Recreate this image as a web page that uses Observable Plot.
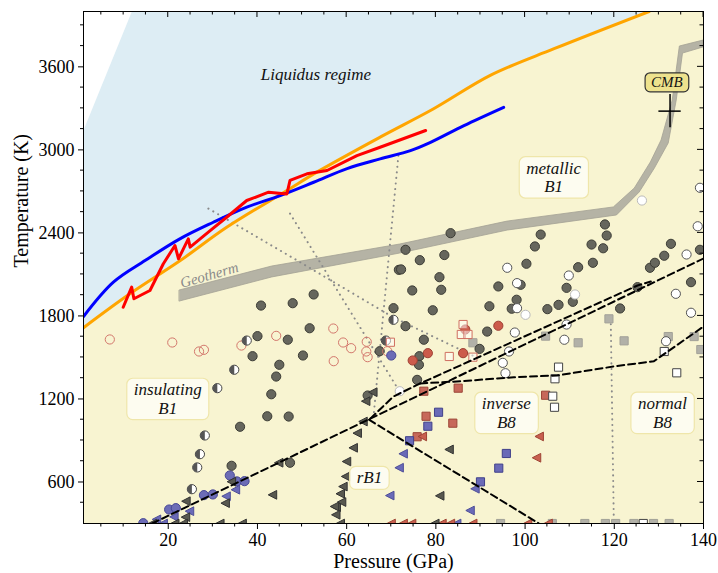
<!DOCTYPE html>
<html><head><meta charset="utf-8">
<script src="https://cdn.jsdelivr.net/npm/d3@7"></script>
<script src="https://cdn.jsdelivr.net/npm/@observablehq/plot@0.6"></script>
<style>body{margin:0;background:#fff;}</style>
</head><body><div id="chart"></div>
<script>
// ---------- axis ticks ----------
const xMajor = [20, 40, 60, 80, 100, 120, 140];
const xMinor = [5, 10, 15, 25, 30, 35, 45, 50, 55, 65, 70, 75, 85, 90, 95, 105, 110, 115, 125, 130, 135];
const yMajor = [600, 1200, 1800, 2400, 3000, 3600];
const yMinor = [450, 750, 900, 1050, 1350, 1500, 1650, 1950, 2100, 2250, 2550, 2700, 2850, 3150, 3300, 3450, 3750, 3900];

// ---------- curves ----------
const orangeP = [1, 11.4, 22.7, 33.1, 46.6, 53.3, 67.5, 79.5, 92.3, 106.5, 127.8];
const orangeT = [1715, 1960, 2200, 2440, 2706, 2839, 3092, 3297, 3540, 3731, 4000];
const blueP = [1, 7.7, 14.8, 22.6, 30.1, 37.6, 45.1, 52.6, 60.1, 67.5, 74.3, 78.8, 86.3, 95.2];
const blueT = [1796, 2044, 2200, 2357, 2477, 2586, 2670, 2766, 2865, 2935, 2995, 3055, 3176, 3308];
const redP = [9.9, 11.8, 12.3, 15.9, 18.9, 21.5, 22.3, 24.5, 24.9, 29.4, 33.1, 37.6, 42.5, 46.6, 47.3, 51.1, 55.6, 62.3, 67.5, 77.7];
const redT = [1863, 2008, 1924, 1984, 2177, 2309, 2213, 2357, 2297, 2417, 2513, 2634, 2694, 2682, 2779, 2827, 2851, 2959, 3019, 3140];
const liqEdgeP = [1, 12.0];
const liqEdgeT = [3130, 4000];

// geotherm band (upper/left edge and lower/right edge)
const geoUpP = [22.6, 43.3, 72.0, 96.1, 119.9, 124.6, 128.2, 130.6, 133.1, 134.7, 140];
const geoUpT = [1984, 2157, 2316, 2482, 2584, 2721, 2909, 3068, 3357, 3747, 3790];
const geoLoP = [22.6, 43.3, 72.0, 96.1, 120.6, 125.7, 129.1, 132.2, 134.0, 135.4, 140];
const geoLoT = [1904, 2078, 2251, 2417, 2526, 2692, 2865, 3046, 3357, 3696, 3740];

// dashed phase boundaries
const dashAP = [16.4, 140], dashAT = [300, 2215];
const dashBP = [65.0, 103.1], dashBT = [1050, 300];
const dashCP = [65.3, 70.5, 76.5, 125.2, 128.2], dashCT = [1058, 1218, 1312, 2020, 2049];
const dashDP = [76.5, 85.5, 97.5, 107.2, 119.9, 128.9, 139.8], dashDT = [1312, 1328, 1357, 1370, 1435, 1473, 1719];
// dotted boundaries
const dotAP = [29.0, 48.9, 70.5, 89.1], dotAT = [2576, 2201, 1789, 1500];
const dotBP = [47.3, 72.0], dotBT = [2540, 1247];
const dotCP = [71.6, 66.0], dotCT = [2959, 1066];
const dotDP = [119.2, 119.9], dotDT = [1781, 300];

// CMB
const cmbP = 132.5, cmbT = 3280, cmbErrP = 2.5, cmbErrT = 120;

// ---------- scatter ----------
const darkCP = [52.6,40.8,47.9,51.7,40.0,46.8,38.9,50.2,44.9,44.2,43.1,42.2,47.0,36.1,34.2,70.5,67.4,64.7,47.3,71.7,
  83.3,73.2,81.9,76.4,103.5,102.2,117.9,118.3,114.9,117.5,132.7,131.2,139.2,
  72.2,100.3,80.8,74.7,81.2,94.0,99.0,98.1,92.0,97.0,79.3,105.0,107.5,110.7,109.3,111.9,115.2,128.0,129.1,125.2,137.2,121.3,73.2,77.3,91.5,89.8,76.3,76.2,75.8];
const darkCT = [1955,1875,1892,1711,1654,1628,1509,1514,1447,1362,1234,1075,1073,999,717,1856,1545,1225,739,2133,
  2398,2278,2240,2203,2388,2302,2461,2381,2316,2289,2321,2235,2278,
  2136,2177,2080,1984,1989,2013,2025,1917,1870,1852,1841,1849,1880,1902,2003,2152,2184,2148,2184,2008,2044,1854,1726,1628,1687,1562,1509,1447,1338];
const openCP = [139.2,138.7,136.2,96.0,98.2,109.8,98.2,109.3,97.7,108.8,96.4,95.0,95.6,133.8,137.2,131.6];
const openCT = [2726,2448,2244,2148,2037,2092,1856,1738,1680,1628,1543,1461,1386,1960,1823,1617];
const lightCP = [126.2,111.2,100.1,71.9];
const lightCT = [2634,1955,1808,1256];
const pinkCP = [6.9,20.9,26.9,28.0,36.4,44.2,57.0,59.2,61.0,64.5,64.4,64.7,57.1,69.1];
const pinkCT = [1630,1608,1543,1555,1586,1656,1709,1608,1567,1613,1543,1502,1473,1545];
const halfCP = [37.6,34.8,31.0,28.2,27.1,26.5,25.3,70.5,68.8];
const halfCT = [1622,1411,1278,936,801,705,548,1772,1622];
const blueCP = [70.0,14.4,20.2,21.7,28.0,30.0,33.8,35.4,37.1];
const blueCT = [1514,302,401,411,505,510,647,604,606];
const redCP = [94.0,86.6,74.8,78.2,86.1];
const redCT = [1729,1702,1478,1531,1531];
const redSqOpenP = [86.1,85.7,87.2,83.0,88.3,69.8];
const redSqOpenT = [1738,1666,1666,1507,1502,1610];
const redSqP = [77.3,85.0,77.8,83.8,75.8,104.6];
const redSqT = [1256,1278,1075,1025,927,1227];
const blueSqP = [80.6,78.2,74.1,95.8,94.1,90.0];
const blueSqT = [1104,1003,898,806,700,601];
const openSqP = [107.5,106.7,106.2,106.6,131.2,134.0,126.5];
const openSqT = [1430,1346,1220,1140,1543,1389,300];
const greySqP = [118.8,88.3,104.6,111.9,122.2,132.1,137.9,139.4,94.5,106.1,113.4,118.0,120.3,124.4,128.8,132.3];
const greySqT = [1779,1606,1654,1606,1620,1651,1651,1557,300,300,300,300,300,300,300,300];
const blueTP = [24.9,33.1,35.2,69.8,71.9,72.8,88.9,87.8,84.8,21.4,19.0,17.5];
const blueTT = [389,497,544,502,703,804,551,394,300,348,300,330];
const redTP = [77.1,103.3,102.7,70.1,72.8,74.7,81.5,83.4,88.4,100.7,105.3];
const redTT = [929,929,775,300,300,300,300,300,300,300,300];
const darkTP = [66.0,64.4,63.8,62.5,61.6,60.1,44.9,59.9,59.3,58.7,43.5,57.8,57.7,32.9,24.1,24.0,83.1,81.0,34.3,59.0,57.4,
  16.6,21.6,23.5,31.7,36.7,58.7,79.9];
const darkTT = [1249,1184,1037,953,847,748,739,640,567,515,507,418,363,447,461,346,835,500,602,455,423,
  300,300,300,300,300,300,300];

// ---------- labels ----------
const regionLabels = ["insulating\nB1", "metallic\nB1", "rB1", "inverse\nB8", "normal\nB8"];
const regionP = [19.9, 106.4, 65.1, 95.8, 130.8];
const regionT = [1203, 2804, 632, 1102, 1102];

// ---------- build ----------
const FONT = "'Liberation Serif', 'Times New Roman', Times, serif";
const zip = (xs, ys) => xs.map((x, i) => ({x, y: ys[i]}));
const geo = geoUpP.map((p, i) => ({ux: p, uy: geoUpT[i], lx: geoLoP[i], ly: geoLoT[i]}));
const halfLeft = {draw(ctx, size) {const r = Math.sqrt(size / Math.PI); ctx.moveTo(0, -r); ctx.arc(0, 0, r, -Math.PI / 2, Math.PI / 2, true); ctx.closePath();}};
const leftTri = {draw(ctx, size) {const r = Math.sqrt(size / Math.PI) * 1.05; ctx.moveTo(-r, 0); ctx.lineTo(r * 0.75, -r * 0.9); ctx.lineTo(r * 0.75, r * 0.9); ctx.closePath();}};
const R = 4.6;
const dots = (xs, ys, o) => Plot.dot(zip(xs, ys), {x: "x", y: "y", r: R, clip: true, strokeWidth: 1, ...o});
const dashed = (xs, ys) => Plot.line(zip(xs, ys), {x: "x", y: "y", stroke: "#000", strokeWidth: 2, strokeDasharray: "7,4", clip: true});
const dotted = (xs, ys) => Plot.line(zip(xs, ys), {x: "x", y: "y", stroke: "#8a8a8a", strokeWidth: 2, strokeDasharray: "0.1,5.5", strokeLinecap: "round", clip: true});
const orange = zip(orangeP, orangeT);

const plot = Plot.plot({
  width: 718, height: 573,
  marginLeft: 83, marginRight: 15, marginTop: 11, marginBottom: 50,
  style: {fontFamily: FONT, fontSize: "18px", color: "#000", background: "#fff"},
  x: {domain: [1, 140], ticks: xMajor, tickFormat: d => String(d), tickSize: 6, tickPadding: 4, label: null},
  y: {domain: [300, 4000], ticks: yMajor, tickFormat: d => String(d), tickSize: 5, tickPadding: 4, label: null},
  marks: [
    Plot.frame({fill: "#f8f4d1", stroke: "none"}),
    Plot.areaY(orange, {x: "x", y1: "y", y2: 4000, fill: "#ddedf4", curve: "catmull-rom", clip: true}),
    Plot.areaY(zip(liqEdgeP, liqEdgeT), {x: "x", y1: "y", y2: 4000, fill: "#fff", clip: true}),
    Plot.area(geo, {x1: "ux", y1: "uy", x2: "lx", y2: "ly", fill: "#b5b3a5", stroke: "#a3a194", strokeWidth: 0.8, clip: true}),
    Plot.text(["Geotherm"], {x: 29.2, y: 2095, rotate: -16, fill: "#8a8a8a", fontStyle: "italic", fontSize: 15}),
    Plot.text(["Liquidus regime"], {x: 53.1, y: 3545, fontStyle: "italic", fontSize: 17, fill: "#111"}),
    dotted(dotAP, dotAT), dotted(dotBP, dotBT), dotted(dotCP, dotCT), dotted(dotDP, dotDT),
    Plot.line(orange, {x: "x", y: "y", stroke: "#ffa500", strokeWidth: 3, curve: "catmull-rom", clip: true}),
    Plot.line(zip(blueP, blueT), {x: "x", y: "y", stroke: "#0000ff", strokeWidth: 3, curve: "catmull-rom", clip: true}),
    Plot.line(zip(redP, redT), {x: "x", y: "y", stroke: "#ff0000", strokeWidth: 3, clip: true}),
    dots(greySqP, greySqT, {symbol: "square", fill: "#b2b1a8", stroke: "#a2a198"}),
    dots(darkCP, darkCT, {fill: "#66665d", stroke: "#3c3c35"}),
    dots(openCP, openCT, {fill: "#fff", stroke: "#555"}),
    dots(lightCP, lightCT, {fill: "#fff", stroke: "#bbb"}),
    dots(pinkCP, pinkCT, {fill: "none", stroke: "#d3776c"}),
    dots(halfCP, halfCT, {fill: "#fff", stroke: "#444"}),
    dots(halfCP, halfCT, {symbol: halfLeft, fill: "#555", stroke: "none"}),
    dots(blueCP, blueCT, {fill: "#6c6cb6", stroke: "#474795"}),
    dots(redCP, redCT, {fill: "#cc5b4b", stroke: "#9e3f33"}),
    dots(redSqOpenP, redSqOpenT, {symbol: "square", fill: "#fff", fillOpacity: 0.5, stroke: "#cf6e60"}),
    dots(redSqP, redSqT, {symbol: "square", fill: "#c7685a", stroke: "#9c4638"}),
    dots(blueSqP, blueSqT, {symbol: "square", fill: "#6a6ab7", stroke: "#40408a"}),
    dots(openSqP, openSqT, {symbol: "square", fill: "#fff", stroke: "#444"}),
    dots(blueTP, blueTT, {symbol: leftTri, fill: "#6a6ab8", stroke: "#4e4e98"}),
    dots(redTP, redTT, {symbol: leftTri, fill: "#c9604f", stroke: "#9e4334"}),
    dots(darkTP, darkTT, {symbol: leftTri, fill: "#58584f", stroke: "#333"}),
    dashed(dashAP, dashAT), dashed(dashBP, dashBT), dashed(dashCP, dashCT), dashed(dashDP, dashDT),
    Plot.ruleY([cmbT], {x1: cmbP - cmbErrP, x2: cmbP + cmbErrP, stroke: "#000", strokeWidth: 1.5}),
    Plot.ruleX([cmbP], {y1: cmbT - cmbErrT, y2: cmbT + cmbErrT, stroke: "#000", strokeWidth: 1.5}),
    Plot.text(["CMB"], {x: 131.8, y: 3487, fontStyle: "italic", fontSize: 15, fill: "#111"}),
    Plot.text(regionLabels, {x: (d, i) => regionP[i], y: (d, i) => regionT[i], fontStyle: "italic", fontSize: 17, lineHeight: 1.08, fill: "#111"}),
    Plot.text(["Pressure (GPa)"], {frameAnchor: "bottom", lineAnchor: "middle", dy: 38, fontSize: 20, fill: "#000"}),
    Plot.text(["Temperature (K)"], {frameAnchor: "left", lineAnchor: "middle", dx: -62, rotate: -90, fontSize: 20, fill: "#000"}),
    Plot.frame({stroke: "#000", strokeWidth: 1})
  ]
});
document.getElementById("chart").appendChild(plot);

// ---------- post-processing: boxes & minor/mirrored ticks ----------
const svg = d3.select(plot);
svg.selectAll("text").attr("font-family", FONT).style("font-variant", "normal");
svg.selectAll("text").each(function () {
  const t = this.textContent;
  let style = null;
  if (t === "CMB") style = {fill: "#ede28d", stroke: "#333", sw: 1.2, px: 6, py: 1.5, rx: 5};
  else if (["insulatingB1", "metallicB1", "rB1", "inverseB8", "normalB8"].includes(t)) style = {fill: "#fefdf6", stroke: "#efe6aa", sw: 1.2, px: 7, py: 2, rx: 6};
  if (!style) return;
  const bb = this.getBBox();
  const rect = document.createElementNS("http://www.w3.org/2000/svg", "rect");
  rect.setAttribute("x", bb.x - style.px); rect.setAttribute("y", bb.y - style.py);
  rect.setAttribute("width", bb.width + 2 * style.px); rect.setAttribute("height", bb.height + 2 * style.py);
  rect.setAttribute("rx", style.rx); rect.setAttribute("fill", style.fill); rect.setAttribute("fill-opacity", style.fill === "#ede28d" ? 1 : 0.85);
  rect.setAttribute("stroke", style.stroke); rect.setAttribute("stroke-width", style.sw);
  if (this.getAttribute("transform")) rect.setAttribute("transform", this.getAttribute("transform"));
  this.parentNode.insertBefore(rect, this);
});
const xs = plot.scale("x"), ys = plot.scale("y");
const sx = d3.scaleLinear(xs.domain, xs.range), sy = d3.scaleLinear(ys.domain, ys.range);
const [x0, x1] = xs.range, [yb, yt] = ys.range;
const g = svg.append("g").attr("stroke", "#000").attr("stroke-width", 1);
for (const v of xMinor) g.append("line").attr("x1", sx(v)).attr("x2", sx(v)).attr("y1", yb).attr("y2", yb + 3.5);
for (const v of xMajor.concat(xMinor)) {
  const L = xMajor.includes(v) ? 6 : 3.5;
  g.append("line").attr("x1", sx(v)).attr("x2", sx(v)).attr("y1", yt).attr("y2", yt + L);
}
for (const v of yMinor) g.append("line").attr("y1", sy(v)).attr("y2", sy(v)).attr("x1", x0).attr("x2", x0 - 3);
for (const v of yMajor.concat(yMinor)) {
  const L = yMajor.includes(v) ? 6 : 3.5;
  g.append("line").attr("y1", sy(v)).attr("y2", sy(v)).attr("x1", x1).attr("x2", x1 - L);
}
</script></body></html>
